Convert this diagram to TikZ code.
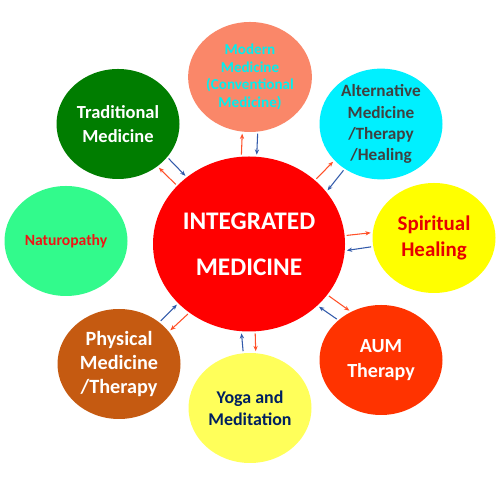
\documentclass[tikz,border=0pt]{standalone}
\usepackage{fontspec}
\setmainfont{Carlito}
\usetikzlibrary{arrows.meta,shapes.geometric}
\definecolor{modfill}{RGB}{250,135,105}
\definecolor{modtext}{RGB}{0,240,240}
\definecolor{altfill}{RGB}{0,240,255}
\definecolor{alttext}{RGB}{64,64,64}
\definecolor{tradfill}{RGB}{0,125,0}
\definecolor{natfill}{RGB}{50,250,140}
\definecolor{nattext}{RGB}{240,20,20}
\definecolor{spirfill}{RGB}{255,255,0}
\definecolor{spirtext}{RGB}{230,0,0}
\definecolor{aumfill}{RGB}{255,51,0}
\definecolor{physfill}{RGB}{197,90,17}
\definecolor{yogafill}{RGB}{255,255,90}
\definecolor{yogatext}{RGB}{0,32,96}
\definecolor{arrred}{RGB}{255,80,40}
\definecolor{arrblue}{RGB}{50,90,170}
\begin{document}
\begin{tikzpicture}[
  bubble/.style={ellipse,inner sep=0pt,minimum width=2.46cm,minimum height=2.2cm,align=center},
  outarr/.style={-{Stealth[length=3pt,width=2.4pt]},line width=0.6pt,draw=arrred,shorten <=1pt,shorten >=1pt},
  inarr/.style={-{Stealth[length=3pt,width=2.4pt]},line width=0.6pt,draw=arrblue,shorten <=1pt,shorten >=1pt},
]
  \fill[white] (0,0) rectangle (10,10);
  \useasboundingbox (0,0) rectangle (10,10);
  % hub
  \node[ellipse,inner sep=0pt,minimum width=3.84cm,minimum height=3.5cm,fill=red,text=white,align=center,
        font=\fontsize{14.4}{26}\selectfont\bfseries] (im) at (4.98,5.12) {INTEGRATED\\MEDICINE};
  % satellites
  \node[bubble,fill=modfill,text=modtext,font=\fontsize{8.6}{10}\selectfont\bfseries] (modern) at (5.0,8.46)
       {Modern\\Medicine\\(Conventional\\Medicine)};
  \node[bubble,fill=altfill,text=alttext,font=\fontsize{9.8}{12}\selectfont\bfseries] (alt) at (7.62,7.52)
       {Alternative\\Medicine\\/Therapy\\/Healing};
  \node[bubble,fill=tradfill,text=white,font=\fontsize{10.5}{13.7}\selectfont\bfseries] (trad) at (2.36,7.52)
       {Traditional\\Medicine};
  \node[bubble,fill=natfill,text=nattext,font=\fontsize{8.9}{11}\selectfont\bfseries] (natur) at (1.32,5.18)
       {Naturopathy};
  \node[bubble,fill=spirfill,text=spirtext,font=\fontsize{11.9}{14.8}\selectfont\bfseries] (spirit) at (8.68,5.24)
       {Spiritual\\Healing};
  \node[bubble,fill=aumfill,text=white,font=\fontsize{11.4}{14.2}\selectfont\bfseries] (aum) at (7.62,2.8)
       {AUM\\Therapy};
  \node[bubble,fill=physfill,text=white,font=\fontsize{11.5}{13.7}\selectfont\bfseries] (phys) at (2.38,2.72)
       {Physical\\Medicine\\/Therapy};
  \node[bubble,fill=yogafill,text=yogatext,font=\fontsize{10.2}{12.5}\selectfont\bfseries] (yoga) at (5.0,1.84)
       {Yoga and\\Meditation};
  % two-way links
  \draw[outarr] (im.95) -- (modern.262);
  \draw[inarr] (modern.278) -- (im.85);
  \draw[outarr] (im.44.6) -- (alt.218.4);
  \draw[inarr] (alt.231.6) -- (im.34.8);
  \draw[outarr] (im.141.4) -- (trad.313.6);
  \draw[inarr] (trad.326.8) -- (im.133.6);
  \draw[outarr] (im.5.2) -- (spirit.175.4);
  \draw[inarr] (spirit.188.4) -- (im.356.6);
  \draw[outarr] (im.327.8) -- (aum.122.9);
  \draw[inarr] (aum.137.9) -- (im.318.9);
  \draw[outarr] (im.229.9) -- (phys.33);
  \draw[inarr] (phys.46.9) -- (im.220.2);
  \draw[outarr] (im.274.5) -- (yoga.84.1);
  \draw[inarr] (yoga.97.9) -- (im.265.6);
\end{tikzpicture}
\end{document}
